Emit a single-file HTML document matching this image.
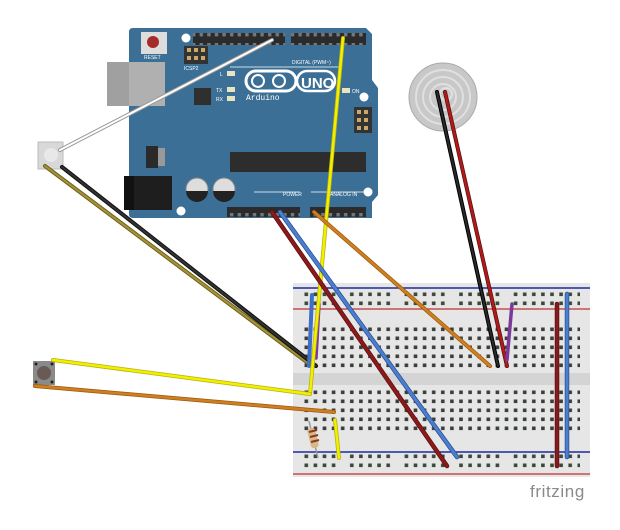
<!DOCTYPE html>
<html><head><meta charset="utf-8"><style>html,body{margin:0;padding:0;background:#fff}svg{display:block}</style></head>
<body>
<svg width="620" height="530" viewBox="0 0 620 530" xmlns="http://www.w3.org/2000/svg">
<defs>
<pattern id="h" x="302" y="325" width="9.1" height="9" patternUnits="userSpaceOnUse"><rect x="2.5" y="2.5" width="3.6" height="3.6" fill="#3a3f3a"/></pattern>
<pattern id="r" x="302" y="290" width="9.1" height="9" patternUnits="userSpaceOnUse"><rect x="2.5" y="2.5" width="3.6" height="3.6" fill="#3a4a3a"/></pattern>
<pattern id="pin" x="0" y="0" width="7.6" height="10" patternUnits="userSpaceOnUse"><rect x="2" y="3" width="3.4" height="3.4" fill="#777"/></pattern>
</defs>
<rect x="107" y="62" width="58" height="44" fill="#a8a8a8"/>
<path d="M133 28 H366 L372 34 V80 L378 88 V195 L372 202 V218 H133 Q129 218 129 214 V32 Q129 28 133 28Z" fill="#3b6f96"/>
<rect x="107" y="62" width="58" height="44" fill="#b0b0b0"/>
<rect x="107" y="62" width="22" height="44" fill="#a0a0a0"/>
<circle cx="186" cy="38" r="4.5" fill="#fff"/><circle cx="364" cy="97" r="4.5" fill="#fff"/><circle cx="368" cy="192" r="4.5" fill="#fff"/><circle cx="181" cy="211" r="4.5" fill="#fff"/>
<rect x="141" y="32" width="26" height="22" fill="#ddd"/><circle cx="153" cy="42" r="6" fill="#a52a2a"/>
<text x="144" y="59" font-family="Liberation Sans,sans-serif" font-size="5" fill="#fff">RESET</text>
<rect x="184" y="46" width="24" height="18" fill="#333"/><rect x="187" y="48" width="4" height="4" fill="#c9a86a"/><rect x="194" y="48" width="4" height="4" fill="#c9a86a"/><rect x="201" y="48" width="4" height="4" fill="#c9a86a"/><rect x="187" y="56" width="4" height="4" fill="#c9a86a"/><rect x="194" y="56" width="4" height="4" fill="#c9a86a"/><rect x="201" y="56" width="4" height="4" fill="#c9a86a"/>
<text x="184" y="70" font-family="Liberation Sans,sans-serif" font-size="5" fill="#fff">ICSP2</text>
<rect x="193" y="33" width="92" height="12" fill="#2b2b2b"/><rect x="193" y="33" width="92" height="12" fill="url(#pin)"/>
<rect x="291" y="33" width="75" height="12" fill="#2b2b2b"/><rect x="291" y="33" width="75" height="12" fill="url(#pin)"/>
<text x="292" y="64" font-family="Liberation Sans,sans-serif" font-size="5" fill="#fff">DIGITAL (PWM~)</text>
<line x1="230" y1="67" x2="340" y2="67" stroke="#fff" stroke-width="0.8"/>
<rect x="227" y="71" width="8" height="5" fill="#e8e4c0"/><text x="220" y="76" font-family="Liberation Sans,sans-serif" font-size="5" fill="#fff">L</text>
<rect x="227" y="87" width="8" height="5" fill="#e8e4c0"/><rect x="227" y="96" width="8" height="5" fill="#e8e4c0"/>
<text x="216" y="92" font-family="Liberation Sans,sans-serif" font-size="5" fill="#fff">TX</text><text x="216" y="101" font-family="Liberation Sans,sans-serif" font-size="5" fill="#fff">RX</text>
<rect x="194" y="88" width="17" height="17" fill="#2f2f2f"/>
<rect x="246" y="71" width="50" height="20" rx="10" fill="none" stroke="#fff" stroke-width="3"/>
<circle cx="258" cy="81" r="6" fill="none" stroke="#fff" stroke-width="2"/><circle cx="279" cy="81" r="6" fill="none" stroke="#fff" stroke-width="2"/>
<rect x="297" y="71" width="38" height="20" rx="10" fill="none" stroke="#fff" stroke-width="2.5"/>
<text x="301" y="88" font-family="Liberation Sans,sans-serif" font-size="15" font-weight="bold" fill="#fff">UNO</text>
<text x="246" y="100" font-family="Liberation Mono,monospace" font-size="8" fill="#fff">Arduino</text>
<rect x="342" y="88" width="8" height="5" fill="#e8e4c0"/><text x="352" y="93" font-family="Liberation Sans,sans-serif" font-size="5" fill="#fff">ON</text>
<rect x="354" y="107" width="18" height="26" fill="#333"/><rect x="357" y="110" width="4" height="4" fill="#c9a86a"/><rect x="364" y="110" width="4" height="4" fill="#c9a86a"/><rect x="357" y="118" width="4" height="4" fill="#c9a86a"/><rect x="364" y="118" width="4" height="4" fill="#c9a86a"/><rect x="357" y="126" width="4" height="4" fill="#c9a86a"/><rect x="364" y="126" width="4" height="4" fill="#c9a86a"/>
<rect x="146" y="146" width="12" height="22" fill="#2a2a2a"/><rect x="158" y="148" width="7" height="18" fill="#999"/>
<rect x="230" y="152" width="136" height="20" fill="#2d2d2d"/>
<rect x="124" y="176" width="48" height="34" fill="#1e1e1e"/><rect x="124" y="176" width="10" height="34" fill="#111"/>
<circle cx="197" cy="189" r="11" fill="#ddd" stroke="#888"/><path d="M186 191 H208 A11 11 0 0 1 186 191Z" fill="#222"/>
<circle cx="224" cy="189" r="11" fill="#ddd" stroke="#888"/><path d="M213 191 H235 A11 11 0 0 1 213 191Z" fill="#222"/>
<line x1="254" y1="192" x2="300" y2="192" stroke="#fff" stroke-width="0.8"/><line x1="311" y1="192" x2="366" y2="192" stroke="#fff" stroke-width="0.8"/>
<text x="283" y="196" font-family="Liberation Sans,sans-serif" font-size="5" fill="#fff">POWER</text><text x="330" y="196" font-family="Liberation Sans,sans-serif" font-size="5" fill="#fff">ANALOG IN</text>
<rect x="227" y="207" width="73" height="10" fill="#2b2b2b"/><rect x="227" y="207" width="73" height="10" fill="url(#pin)"/>
<rect x="310" y="207" width="56" height="10" fill="#2b2b2b"/><rect x="310" y="207" width="56" height="10" fill="url(#pin)"/>
<circle cx="443" cy="97" r="34" fill="#c8c8c8" stroke="#aaa"/>
<circle cx="443" cy="97" r="27" fill="none" stroke="#e0e0e0" stroke-width="2"/>
<circle cx="443" cy="97" r="20" fill="none" stroke="#e0e0e0" stroke-width="2"/>
<circle cx="443" cy="97" r="13" fill="none" stroke="#e0e0e0" stroke-width="2"/>
<circle cx="446" cy="94" r="6" fill="none" stroke="#e0e0e0" stroke-width="2"/>
<rect x="293" y="283" width="297" height="194" fill="#e6e6e6"/>
<rect x="293" y="373" width="297" height="12" fill="#d4d4d4"/>
<line x1="293" y1="288" x2="590" y2="288" stroke="#1a2aa0" stroke-width="1.5"/>
<line x1="293" y1="309" x2="590" y2="309" stroke="#c03030" stroke-width="1.2"/>
<line x1="293" y1="452" x2="590" y2="452" stroke="#1a2aa0" stroke-width="1.5"/>
<line x1="293" y1="474" x2="590" y2="474" stroke="#c03030" stroke-width="1.2"/>
<rect x="302" y="325" width="278" height="45" fill="url(#h)"/>
<rect x="302" y="388" width="278" height="45" fill="url(#h)"/>
<rect x="302" y="290" width="278" height="18" fill="url(#r)"/>
<rect x="302" y="454" width="278" height="18" fill="url(#r)"/>
<g fill="#e6e6e6"><rect x="339" y="290" width="9" height="18"/><rect x="393" y="290" width="9" height="18"/><rect x="448" y="290" width="9" height="18"/><rect x="503" y="290" width="9" height="18"/><rect x="339" y="454" width="9" height="18"/><rect x="393" y="454" width="9" height="18"/><rect x="448" y="454" width="9" height="18"/><rect x="503" y="454" width="9" height="18"/></g>
<line x1="309" y1="421" x2="318" y2="458" stroke="#999" stroke-width="1.5"/>
<rect x="309" y="428" width="8" height="20" rx="3" fill="#d8b88a" transform="rotate(-14 313 438)"/>
<g stroke="#8b3a1a" stroke-width="2"><line x1="309" y1="432" x2="317" y2="430"/><line x1="310" y1="437" x2="318" y2="435"/><line x1="311" y1="442" x2="319" y2="440"/></g>
<rect x="38" y="142" width="25" height="27" fill="#d8d8d8" stroke="#bbb"/><circle cx="51" cy="155" r="7" fill="#e8e8e8"/>
<rect x="33" y="361" width="22" height="24" fill="#8a8a8a"/><circle cx="44" cy="373" r="7" fill="#6a5a55"/>
<g fill="#222"><circle cx="36" cy="364" r="1.5"/><circle cx="52" cy="364" r="1.5"/><circle cx="36" cy="382" r="1.5"/><circle cx="52" cy="382" r="1.5"/></g>
<g stroke-linecap="round" fill="none">
<line x1="60" y1="150" x2="272" y2="40" stroke="#999" stroke-width="4"/><line x1="60" y1="150" x2="272" y2="40" stroke="#fff" stroke-width="2"/>
<line x1="45" y1="166" x2="312" y2="366" stroke="#6e6220" stroke-width="4"/><line x1="45" y1="166" x2="312" y2="366" stroke="#a49434" stroke-width="2"/>
<line x1="62" y1="167" x2="316" y2="366" stroke="#111" stroke-width="4"/><line x1="62" y1="167" x2="316" y2="366" stroke="#333" stroke-width="2"/>
<line x1="312" y1="295" x2="309" y2="366" stroke="#3f6ec8" stroke-width="4"/>
<line x1="319" y1="304" x2="316" y2="358" stroke="#7a3a9a" stroke-width="3.5"/>
<line x1="343" y1="38" x2="310" y2="394" stroke="#b8b010" stroke-width="4"/><line x1="343" y1="38" x2="310" y2="394" stroke="#f0f000" stroke-width="2.5"/>
<line x1="53" y1="360" x2="310" y2="394" stroke="#b8b010" stroke-width="4"/><line x1="53" y1="360" x2="310" y2="394" stroke="#f0f000" stroke-width="2.5"/>
<line x1="35" y1="386" x2="334" y2="412" stroke="#9a5a10" stroke-width="4"/><line x1="35" y1="386" x2="334" y2="412" stroke="#d07f20" stroke-width="2.5"/>
<line x1="335" y1="420" x2="339" y2="458" stroke="#b8b010" stroke-width="4"/><line x1="335" y1="420" x2="339" y2="458" stroke="#f0f000" stroke-width="2.5"/>
<line x1="314" y1="212" x2="490" y2="366" stroke="#9a5a10" stroke-width="4"/><line x1="314" y1="212" x2="490" y2="366" stroke="#d07f20" stroke-width="2.5"/>
<line x1="272" y1="212" x2="447" y2="466" stroke="#5a0e0e" stroke-width="4.5"/><line x1="272" y1="212" x2="447" y2="466" stroke="#8b1a1a" stroke-width="3"/>
<line x1="280" y1="212" x2="457" y2="457" stroke="#2c4e90" stroke-width="4.5"/><line x1="280" y1="212" x2="457" y2="457" stroke="#4a7ed0" stroke-width="3"/>
<line x1="437" y1="92" x2="498" y2="366" stroke="#000" stroke-width="4"/><line x1="437" y1="92" x2="498" y2="366" stroke="#2a2a2a" stroke-width="2"/>
<line x1="445" y1="92" x2="507" y2="366" stroke="#5a0e0e" stroke-width="4"/><line x1="445" y1="92" x2="507" y2="366" stroke="#b01a1a" stroke-width="2.5"/>
<line x1="512" y1="304" x2="507" y2="360" stroke="#7a3a9a" stroke-width="3.5"/>
<line x1="557" y1="304" x2="557" y2="466" stroke="#5a0e0e" stroke-width="4.5"/><line x1="557" y1="304" x2="557" y2="466" stroke="#8b1a1a" stroke-width="3"/>
<line x1="567" y1="294" x2="567" y2="457" stroke="#2c4e90" stroke-width="4.5"/><line x1="567" y1="294" x2="567" y2="457" stroke="#4a7ed0" stroke-width="3"/>
</g>
<text x="530" y="497" font-family="Liberation Sans,sans-serif" font-size="17" letter-spacing="0.6" fill="#8a8a8a">fritzing</text>
</svg>
</body></html>
